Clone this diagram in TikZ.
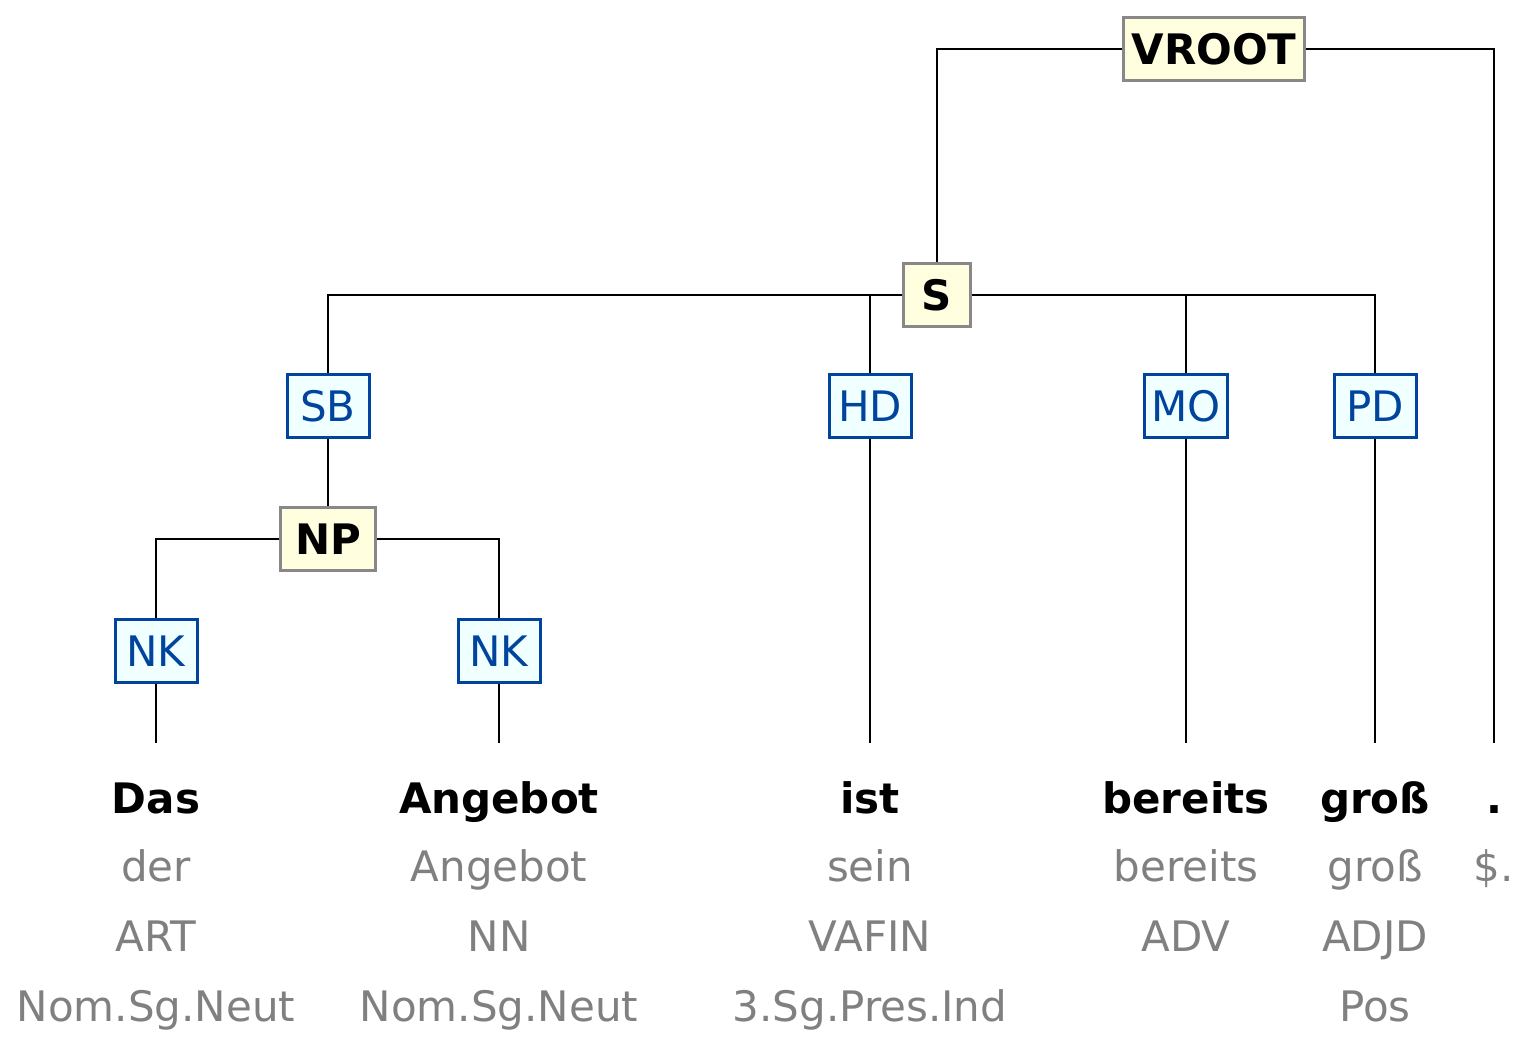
\documentclass[tikz,border=0pt]{standalone}
\usepackage{fontspec}
\setmainfont{DejaVu Sans}
\definecolor{funcblue}{RGB}{0,68,158}
\definecolor{funcfill}{RGB}{240,255,255}
\definecolor{catfill}{RGB}{255,255,224}
\definecolor{catline}{RGB}{136,136,136}
\definecolor{morphgray}{RGB}{128,128,128}

\begin{document}
\begin{tikzpicture}[x=1pt, y=-1pt, line width=2.8pt, font=\fontsize{42}{50}\selectfont,
  cat/.style={draw=catline, fill=catfill, line width=3pt, font=\fontsize{42}{50}\selectfont\bfseries,
    minimum height=63pt, minimum width=67pt, inner xsep=8pt},
  func/.style={draw=funcblue, fill=funcfill, text=funcblue, line width=3pt,
    minimum height=63pt, minimum width=82pt, inner xsep=7pt},
  word/.style={anchor=base, font=\fontsize{42}{50}\selectfont\bfseries, text height=29pt,
    inner ysep=41pt, outer sep=0pt},
  morph/.style={anchor=base, text=morphgray}]
  \useasboundingbox (0,0) rectangle (1522,1044);

  % syntax nodes
  \node[cat] (VROOT) at (1214,49) {VROOT};
  \node[cat] (S) at (937,295) {S};
  \node[cat, minimum width=95pt] (NP) at (328,539) {NP};
  \node[func] (SB) at (328,406) {SB};
  \node[func] (HD) at (870,406) {HD};
  \node[func] (MO) at (1186,406) {MO};
  \node[func] (PD) at (1375,406) {PD};
  \node[func] (NKa) at (156,651) {NK};
  \node[func] (NKb) at (499,651) {NK};

  % terminals: word, lemma, pos, morphology
  \foreach \x/\w/\lem/\pos/\mor/\id in {156/Das/der/ART/Nom.Sg.Neut/ta,
      499/Angebot/Angebot/NN/Nom.Sg.Neut/tb, 870/ist/sein/VAFIN/3.Sg.Pres.Ind/tc,
      1186/bereits/bereits/ADV/{}/td, 1375/groß/groß/ADJD/Pos/te, 1494/./\$./{}/{}/tf} {
    \node[word] (\id) at (\x,813) {\w};
    \node[morph] (\id-lem) at (\x,881) {\lem};
    \node[morph] (\id-pos) at (\x,951) {\pos};
    \node[morph] (\id-mor) at (\x,1021) {\mor};
  }

  % edges
  \draw (VROOT) -| (S);
  \draw (VROOT) -| (tf);
  \draw (S) -| (SB);
  \draw (S) -| (HD);
  \draw (S) -| (MO);
  \draw (S) -| (PD);
  \draw (SB) -- (NP);
  \draw (NP) -| (NKa);
  \draw (NP) -| (NKb);
  \draw (NKa) -- (ta);
  \draw (NKb) -- (tb);
  \draw (HD) -- (tc);
  \draw (MO) -- (td);
  \draw (PD) -- (te);
\end{tikzpicture}
\end{document}
